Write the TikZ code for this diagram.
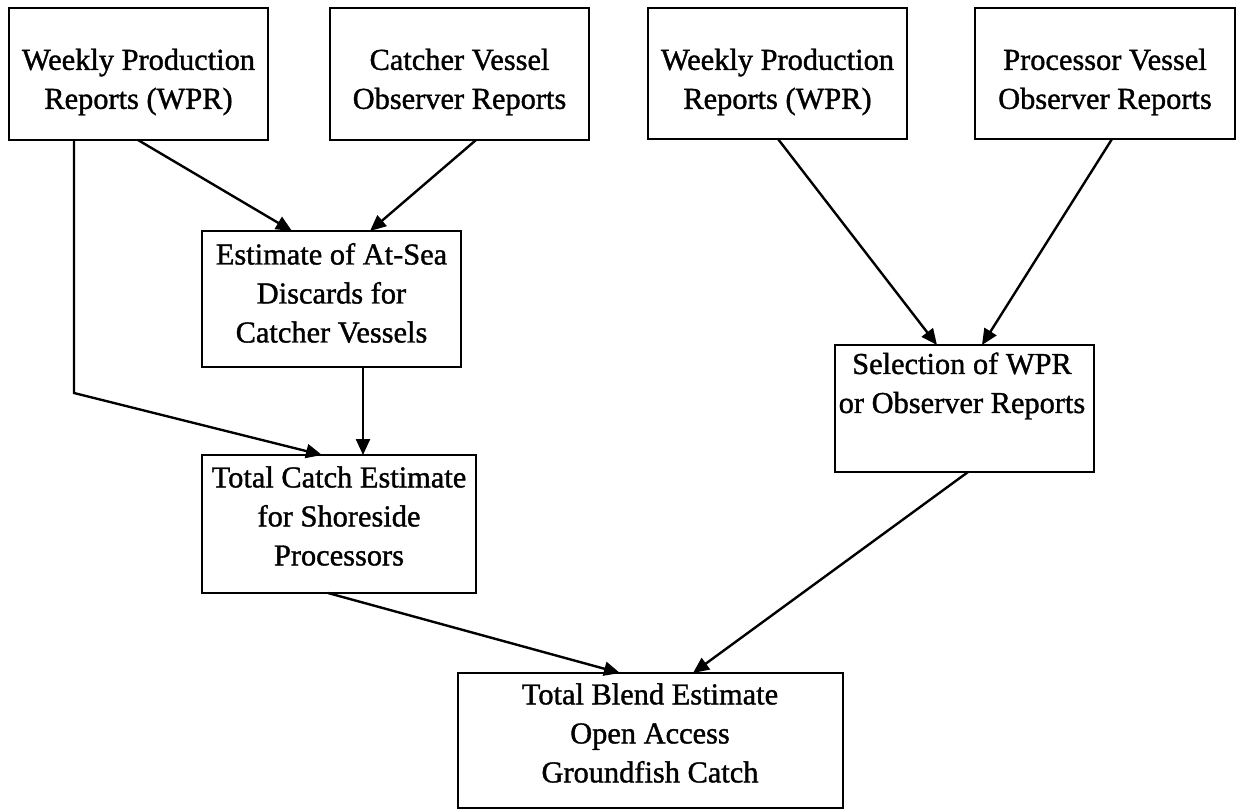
\documentclass[tikz,border=0pt]{standalone}
\usepackage{fontspec}
\setmainfont{Liberation Serif}[FakeBold=1.2]
\usetikzlibrary{arrows.meta}
\begin{document}
\begin{tikzpicture}[x=0.5pt,y=-0.5pt,
  box/.style={draw=black,line width=1.4pt,inner sep=0pt,outer sep=0pt},
  txt/.style={align=center,font=\fontsize{15.2}{19.5}\selectfont,inner sep=0pt},
  arr/.style={line width=1.2pt,-{Triangle[length=8pt,width=7pt]}}]
\useasboundingbox[fill=white] (0,0) rectangle (1239,811);
% boxes (pixel extents)
\node[box,minimum width=129.5pt,minimum height=66pt] (wpr1) at (138.5,74) {};
\node[box,minimum width=129.5pt,minimum height=66pt] (cvo) at (459.5,74) {};
\node[box,minimum width=129.5pt,minimum height=65.5pt] (wpr2) at (777.5,73.5) {};
\node[box,minimum width=130pt,minimum height=65.5pt] (pvo) at (1105,73.5) {};
\node[box,minimum width=129.5pt,minimum height=68pt] (est) at (331.5,299) {};
\node[box,minimum width=129.5pt,minimum height=63.5pt] (sel) at (964.5,408.5) {};
\node[box,minimum width=137pt,minimum height=69pt] (tot) at (339,524) {};
\node[box,minimum width=192.5pt,minimum height=67.5pt] (blend) at (650.5,740.5) {};
% texts
\node[txt] (t1) at (138.5,82) {Weekly Production\\Reports (WPR)};
\node[txt] (t2) at (459.5,82) {Catcher Vessel\\Observer Reports};
\node[txt] (t3) at (777.5,82) {Weekly Production\\Reports (WPR)};
\node[txt] (t4) at (1105,82) {Processor Vessel\\Observer Reports};
\node[txt] (t5) at (331.5,293) {Estimate of At-Sea\\Discards for\\Catcher Vessels};
\node[txt] (t6) at (962,386) {Selection of WPR\\or Observer Reports};
\node[txt] (t7) at (339,516) {Total Catch Estimate\\for Shoreside\\Processors};
\node[txt] (t8) at (650,733) {Total Blend Estimate\\Open Access\\Groundfish Catch};
% connectors
\draw[arr] (wpr1.south -| 138,0) -- (est.north -| 292,0);
\draw[arr] (cvo.south -| 476,0) -- (est.north -| 370,0);
\draw[arr] (wpr1.south -| 74,0) -- (74,393) -- (tot.north -| 322,0);
\draw[arr] (est.south -| 363,0) -- (tot.north -| 363,0);
\draw[arr] (wpr2.south -| 778,0) -- (sel.north -| 937,0);
\draw[arr] (pvo.south -| 1112,0) -- (sel.north -| 982,0);
\draw[arr] (sel.south -| 968,0) -- (blend.north -| 693,0);
\draw[arr] (tot.south -| 328,0) -- (blend.north -| 620,0);
\end{tikzpicture}
\end{document}
